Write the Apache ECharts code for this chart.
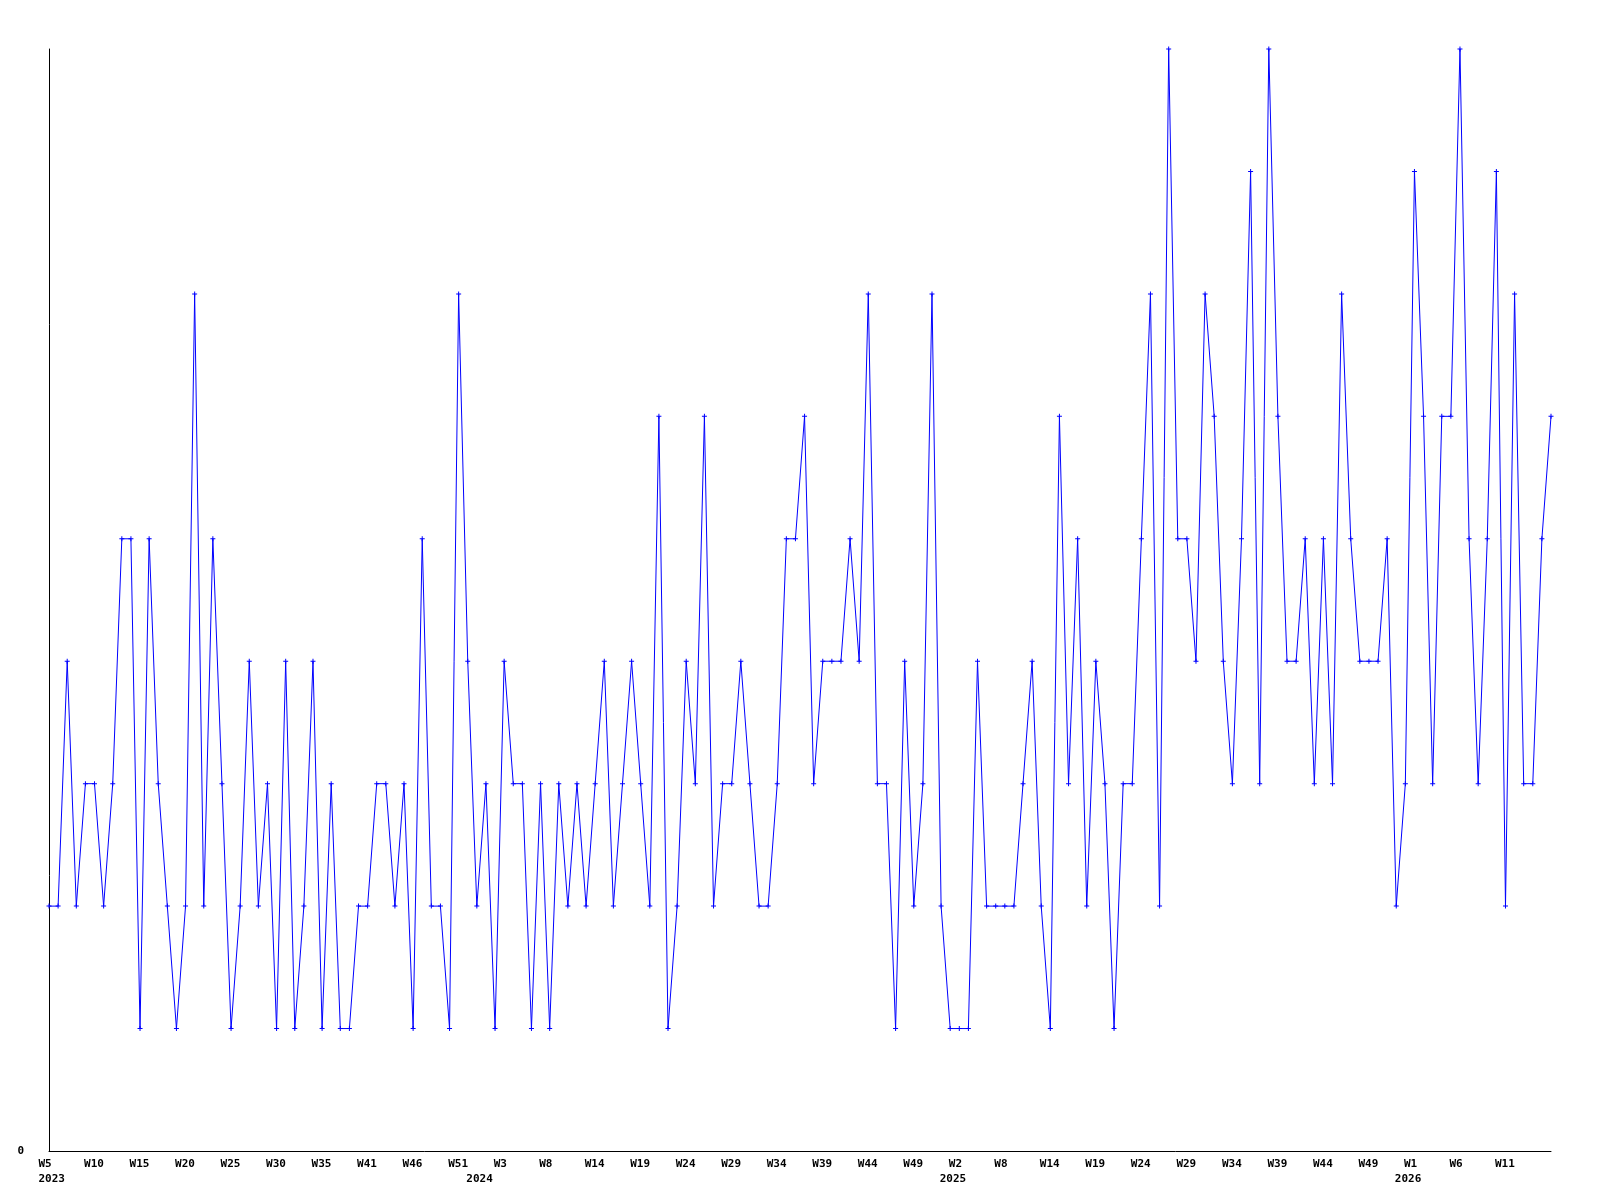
<!DOCTYPE html>
<html>
<head>
<meta charset="utf-8">
<script src="https://cdn.jsdelivr.net/npm/echarts@6/dist/echarts.min.js"></script>
<style>
  html, body { margin: 0; padding: 0; background: #ffffff; }
  #chart { width: 1600px; height: 1200px; }
</style>
</head>
<body>
<div id="chart"></div>
<script>
// Weekly values, first point = 2023 W5
var values = [
  2, 2, 4, 2, 3, 3, 2, 3, 5, 5,
  1, 5, 3, 2, 1, 2, 7, 2, 5, 3,
  1, 2, 4, 2, 3, 1, 4, 1, 2, 4,
  1, 3, 1, 1, 2, 2, 3, 3, 2, 3,
  1, 5, 2, 2, 1, 7, 4, 2, 3, 1,
  4, 3, 3, 1, 3, 1, 3, 2, 3, 2,
  3, 4, 2, 3, 4, 3, 2, 6, 1, 2,
  4, 3, 6, 2, 3, 3, 4, 3, 2, 2,
  3, 5, 5, 6, 3, 4, 4, 4, 5, 4,
  7, 3, 3, 1, 4, 2, 3, 7, 2, 1,
  1, 1, 4, 2, 2, 2, 2, 3, 4, 2,
  1, 6, 3, 5, 2, 4, 3, 1, 3, 3,
  5, 7, 2, 9, 5, 5, 4, 7, 6, 4,
  3, 5, 8, 3, 9, 6, 4, 4, 5, 3,
  5, 3, 7, 5, 4, 4, 4, 5, 2, 3,
  8, 6, 3, 6, 6, 9, 5, 3, 5, 8,
  2, 7, 3, 3, 5, 6
];

// Week tick labels, shown on every 5th point
var tickPoints = [0, 5, 10, 15, 20, 25, 30, 35, 40, 45, 50, 55, 60, 65, 70, 75, 80,
                  85, 90, 95, 100, 105, 110, 115, 120, 125, 130, 135, 140, 145, 150, 155, 160];
var tickLabels = ['W5', 'W10', 'W15', 'W20', 'W25', 'W30', 'W35', 'W41', 'W46', 'W51',
                  'W3', 'W8', 'W14', 'W19', 'W24', 'W29', 'W34', 'W39', 'W44', 'W49',
                  'W2', 'W8', 'W14', 'W19', 'W24', 'W29', 'W34', 'W39', 'W44', 'W49',
                  'W1', 'W6', 'W11'];

// Year labels at the first point of each year
var yearPoints = [0, 47, 99, 149];
var yearLabels = ['2023', '2024', '2025', '2026'];

var categories = values.map(function (_, i) { return String(i); });

var FONT = 'DejaVu Sans Mono';

var chart = echarts.init(document.getElementById('chart'), null, { renderer: 'canvas' });
chart.setOption({
  animation: false,
  backgroundColor: '#ffffff',
  grid: { left: 49, right: 49, top: 49, bottom: 49, containLabel: false },
  xAxis: [
    {
      type: 'category',
      data: categories,
      boundaryGap: false,
      position: 'bottom',
      axisLine: { show: true, lineStyle: { color: '#000000', width: 1 } },
      axisTick: { show: false },
      splitLine: { show: false },
      axisLabel: {
        margin: 8,
        interval: function (index) { return tickPoints.indexOf(index) >= 0; },
        formatter: function (v, index) {
          var k = tickPoints.indexOf(index);
          return k >= 0 ? '{a|' + tickLabels[k] + '}' : '';
        },
        rich: {
          a: { width: 21, align: 'left', fontFamily: FONT, fontWeight: 'bold', fontSize: 11, color: '#000000' }
        }
      }
    },
    {
      type: 'category',
      data: categories,
      boundaryGap: false,
      position: 'bottom',
      offset: 0,
      axisLine: { show: false },
      axisTick: { show: false },
      splitLine: { show: false },
      axisLabel: {
        margin: 23,
        interval: function (index) { return yearPoints.indexOf(index) >= 0; },
        formatter: function (v, index) {
          var k = yearPoints.indexOf(index);
          return k >= 0 ? '{a|' + yearLabels[k] + '}' : '';
        },
        rich: {
          a: { width: 21, align: 'left', fontFamily: FONT, fontWeight: 'bold', fontSize: 11, color: '#000000' }
        }
      }
    }
  ],
  yAxis: {
    type: 'value',
    min: 0,
    max: 9,
    interval: 9,
    axisLine: { show: true, lineStyle: { color: '#000000', width: 1 } },
    axisTick: { show: false },
    splitLine: { show: false },
    axisLabel: {
      margin: 25,
      fontFamily: FONT,
      fontWeight: 'bold',
      fontSize: 11,
      color: '#000000',
      formatter: function (v) { return v === 0 ? '0' : ''; }
    }
  },
  series: [
    {
      type: 'line',
      xAxisIndex: 0,
      data: values,
      symbol: 'path://M2,0H3V2H5V3H3V5H2V3H0V2H2Z',
      symbolSize: 5,
      showAllSymbol: true,
      lineStyle: { color: '#0000ff', width: 1 },
      itemStyle: { color: '#0000ff' },
      emphasis: { disabled: true }
    }
  ]
});
</script>
</body>
</html>
